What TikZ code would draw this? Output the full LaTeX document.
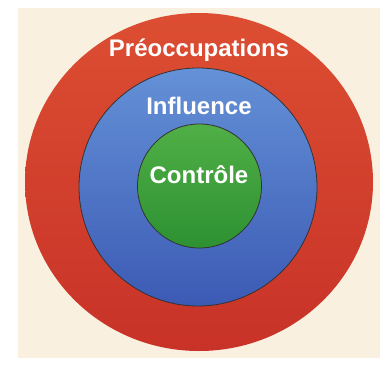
\documentclass[tikz,border=0pt]{standalone}
\usepackage{fontspec}
\setmainfont{Liberation Sans}
\begin{document}
\begin{tikzpicture}[x=1pt,y=-1pt,
  ring/.style={draw=black!80, line width=0.8pt},
  lbl/.style={text=white, font=\fontsize{24}{28}\selectfont\bfseries, anchor=base, inner sep=0pt}]
\definecolor{beige}{RGB}{250,240,224}
\definecolor{redtop}{RGB}{220,78,50}
\definecolor{redbot}{RGB}{200,50,40}
\definecolor{bluetop}{RGB}{100,145,215}
\definecolor{bluebot}{RGB}{60,90,180}
\definecolor{greentop}{RGB}{80,175,70}
\definecolor{greenbot}{RGB}{45,145,50}
\useasboundingbox (0,0) rectangle (389,365);
\fill[white] (0,0) rectangle (389,365);
\fill[beige] (18,8) rectangle (380,358);
\shade[top color=redtop, bottom color=redbot] (199,182) ellipse [x radius=174, y radius=169];
\shade[top color=bluetop, bottom color=bluebot, ring] (198,187) circle [radius=119];
\shade[top color=greentop, bottom color=greenbot, ring] (199.5,186) circle [radius=62];
\node[lbl] (preo) at (199,56) {Préoccupations};
\node[lbl] (infl) at (199,114) {Influence};
\node[lbl] (ctrl) at (199,183) {Contrôle};
\end{tikzpicture}
\end{document}
